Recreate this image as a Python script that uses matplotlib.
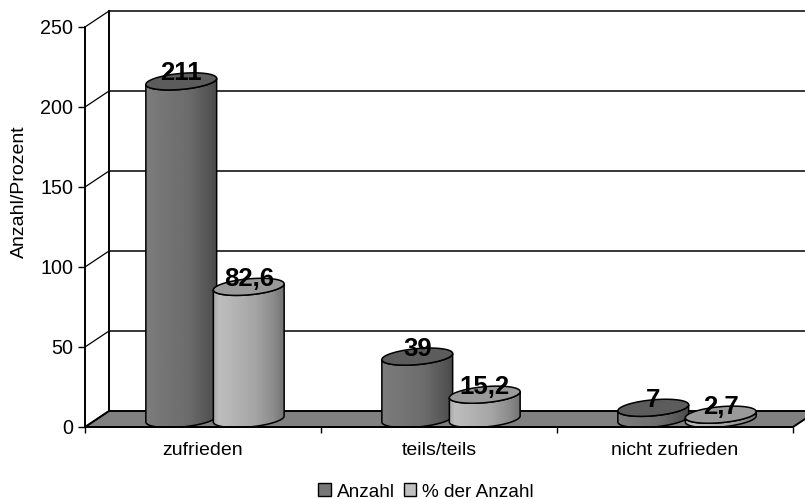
#!/usr/bin/env python3
"""Pseudo 3D cylinder chart: Anzahl / % der Anzahl by satisfaction."""

import matplotlib
matplotlib.use('Agg')
import matplotlib.pyplot as plt
from matplotlib.patches import Patch, Polygon
import numpy as np

plt.rcParams['font.family'] = ['Liberation Sans', 'DejaVu Sans']

categories = ['zufrieden', 'teils/teils', 'nicht zufrieden']
anzahl = [211, 39, 7]
prozent = [82.6, 15.2, 2.7]
anzahl_labels = ['211', '39', '7']
prozent_labels = ['82,6', '15,2', '2,7']
y_ticks = [0, 50, 100, 150, 200, 250]

W, H = 805, 499
DEPTH_X = 24 / 236   # depth of the floor, in category units
DEPTH_Y = 10         # same, in value units
BAR_W = 0.30
BAR_OFFSET = 0.143
ELL_B = 5.0
ELL_TILT = 1.9

fig = plt.figure(figsize=(W / 100, H / 100), dpi=100, facecolor='white')
ax = fig.add_axes([85 / W, (H - 427) / H, (793 - 85) / W, 400 / H])


def ellipse(cx, cy, half_w, t):
    return cx + half_w * np.cos(t), cy + ELL_B * np.sin(t) + ELL_TILT * np.cos(t)


def draw_cylinder(x, value, stops, greys, top_color, z):
    """Cylinder standing in the middle of the floor depth."""
    cx = x + DEPTH_X / 2
    base = DEPTH_Y / 2
    top = value + DEPTH_Y / 2
    half_w = BAR_W / 2

    t_front = np.linspace(np.pi, 2 * np.pi, 60)
    bx, by = ellipse(cx, base, half_w, t_front)
    tx, ty = ellipse(cx, top, half_w, t_front[::-1])
    body = np.column_stack([np.r_[bx, tx], np.r_[by, ty]])

    # horizontal shading clipped to the body outline
    shade = np.interp(np.linspace(0, 1, 140), stops, greys)[None, :]
    img = ax.imshow(shade, cmap='gray', vmin=0, vmax=255, aspect='auto',
                    extent=(cx - half_w, cx + half_w, -5, top + 8), zorder=z)
    outline = Polygon(body, closed=True, transform=ax.transData,
                      facecolor='none', edgecolor='black', lw=1.1, zorder=z + 0.1)
    ax.add_patch(outline)
    img.set_clip_path(outline)

    t_all = np.linspace(0, 2 * np.pi, 120)
    ex, ey = ellipse(cx, top, half_w, t_all)
    ax.fill(ex, ey, facecolor=top_color, edgecolor='black', lw=1.1, zorder=z + 0.2)
    return cx, top


# floor
ax.add_patch(Polygon([(0, 0), (3, 0), (3 + DEPTH_X, DEPTH_Y), (DEPTH_X, DEPTH_Y)],
                     closed=True, facecolor='#808080', edgecolor='black', lw=1.4,
                     clip_on=False, zorder=1))

# back wall and side wall grid
for v in y_ticks:
    ax.plot([0, DEPTH_X], [v, v + DEPTH_Y], color='black', lw=0.9, clip_on=False, zorder=1)
    if v > 0:
        ax.plot([DEPTH_X, 3 + DEPTH_X], [v + DEPTH_Y, v + DEPTH_Y], color='black', lw=1.1,
                clip_on=False, zorder=1)
ax.plot([DEPTH_X, DEPTH_X], [DEPTH_Y, 250 + DEPTH_Y], color='black', lw=1.4,
        clip_on=False, zorder=1)

dark_stops = [0, 0.15, 0.6, 0.85, 1]
dark_greys = [125, 120, 108, 88, 75]
light_stops = [0, 0.08, 0.6, 0.85, 1]
light_greys = [165, 190, 165, 140, 115]

for i, cat in enumerate(categories):
    c = i + 0.5
    cx, top = draw_cylinder(c - BAR_OFFSET, anzahl[i], dark_stops, dark_greys, '#5c5c5c', 3)
    ax.text(cx, top + 5, anzahl_labels[i], ha='center', va='center', fontsize=18.5,
            fontweight='bold', color='black', zorder=8)
    cx, top = draw_cylinder(c + BAR_OFFSET, prozent[i], light_stops, light_greys, '#9a9a9a', 5)
    ax.text(cx, top + 5, prozent_labels[i], ha='center', va='center', fontsize=18.5,
            fontweight='bold', color='black', zorder=8)

ax.set_xlim(0, 3)
ax.set_ylim(0, 250)
ax.patch.set_alpha(0)
ax.spines['top'].set_visible(False)
ax.spines['right'].set_visible(False)
ax.spines['left'].set_linewidth(1.4)
ax.spines['bottom'].set_linewidth(1.4)
ax.spines['left'].set_zorder(9)
ax.spines['bottom'].set_zorder(9)

ax.set_yticks(y_ticks)
ax.set_xticks(range(4))
ax.set_xticklabels([])
ax.set_xticks([i + 0.5 for i in range(3)], minor=True)
ax.set_xticklabels(categories, minor=True)
ax.tick_params(axis='x', which='minor', length=0, pad=11, labelsize=14)
ax.tick_params(axis='x', which='major', length=4.3, width=1.0)
ax.tick_params(axis='y', length=5, width=1.0, pad=3.5, labelsize=14.2)
ax.set_ylabel('Anzahl/Prozent', fontsize=14, va='center')
ax.yaxis.set_label_coords(-0.092, 0.5875)

handles = [Patch(facecolor='#777777', edgecolor='black', label='Anzahl'),
           Patch(facecolor='#c0c0c0', edgecolor='black', label='% der Anzahl')]
fig.legend(handles=handles, loc='center', bbox_to_anchor=(426 / W, (H - 492) / H), ncol=2,
           frameon=False, fontsize=13.7, handlelength=0.65, handleheight=0.65,
           handletextpad=0.32, columnspacing=0.48, borderpad=0)

fig.savefig('out.png', dpi=100)
